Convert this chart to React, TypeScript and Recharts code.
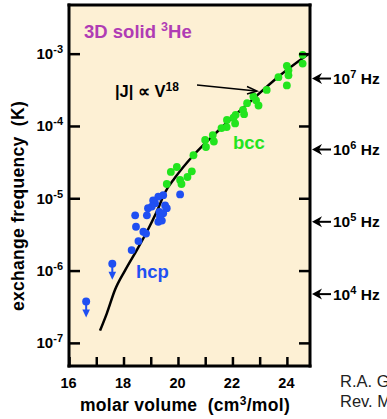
import { CartesianGrid, ComposedChart, Line, Scatter, XAxis, YAxis } from "recharts";

const FONT = '"Liberation Sans", Arial, Helvetica, sans-serif';
const BG = "#fdf0d4";
const GREEN = "#22e41e";
const BLUE = "#1f4ff2";
const PURPLE = "#b03cb4";

// molar volume (cm3/mol) vs exchange frequency |J| (K)
const hcpPoints = [
  { v: 20.06, j: 1.15e-5 },
  { v: 19.44, j: 1.12e-5 },
  { v: 19.26, j: 1.07e-5 },
  { v: 19.14, j: 8.7e-6 },
  { v: 19.07, j: 9.5e-6 },
  { v: 19.02, j: 7.8e-6 },
  { v: 19.51, j: 8.1e-6 },
  { v: 19.57, j: 7.4e-6 },
  { v: 19.3, j: 6.6e-6 },
  { v: 19.44, j: 6.3e-6 },
  { v: 19.32, j: 5.6e-6 },
  { v: 19.39, j: 5.0e-6 },
  { v: 19.26, j: 4.8e-6 },
  { v: 18.88, j: 7.4e-6 },
  { v: 18.41, j: 5.9e-6 },
  { v: 18.84, j: 5.9e-6 },
  { v: 18.44, j: 4.1e-6 },
  { v: 18.71, j: 3.5e-6 },
  { v: 18.81, j: 3.3e-6 },
  { v: 18.53, j: 2.6e-6 },
  { v: 18.28, j: 1.95e-6 },
];

const hcpUpperLimits = [
  { v: 17.57, j: 1.26e-6 },
  { v: 16.61, j: 3.8e-7 },
];

const bccPoints = [
  { v: 24.56, j: 9.8e-4 },
  { v: 24.56, j: 7.4e-4 },
  { v: 23.98, j: 6.9e-4 },
  { v: 24.04, j: 6.0e-4 },
  { v: 24.04, j: 5.1e-4 },
  { v: 23.67, j: 4.8e-4 },
  { v: 23.98, j: 3.7e-4 },
  { v: 23.24, j: 3.2e-4 },
  { v: 22.75, j: 2.6e-4 },
  { v: 22.85, j: 2.3e-4 },
  { v: 22.94, j: 1.95e-4 },
  { v: 22.52, j: 2.1e-4 },
  { v: 22.37, j: 1.7e-4 },
  { v: 22.41, j: 1.48e-4 },
  { v: 22.1, j: 1.45e-4 },
  { v: 22.02, j: 1.32e-4 },
  { v: 21.78, j: 1.23e-4 },
  { v: 22.08, j: 1.1e-4 },
  { v: 21.77, j: 9.8e-5 },
  { v: 21.58, j: 9.5e-5 },
  { v: 21.26, j: 7.6e-5 },
  { v: 21.3, j: 6.2e-5 },
  { v: 20.98, j: 6.5e-5 },
  { v: 21.01, j: 5.2e-5 },
  { v: 20.55, j: 4.0e-5 },
  { v: 19.94, j: 2.75e-5 },
  { v: 19.72, j: 2.35e-5 },
  { v: 20.49, j: 2.4e-5 },
  { v: 20.33, j: 2.0e-5 },
  { v: 20.06, j: 1.82e-5 },
  { v: 20.11, j: 1.6e-5 },
  { v: 19.57, j: 1.6e-5 },
];

const fitCurve = [
  { v: 17.12, j: 1.5e-7 },
  { v: 17.37, j: 2.6e-7 },
  { v: 17.67, j: 5.5e-7 },
  { v: 18.04, j: 1.02e-6 },
  { v: 18.47, j: 1.95e-6 },
  { v: 18.84, j: 3.5e-6 },
  { v: 19.2, j: 6.6e-6 },
  { v: 19.51, j: 1.23e-5 },
  { v: 19.87, j: 1.95e-5 },
  { v: 20.55, j: 4.0e-5 },
  { v: 21.5, j: 9.0e-5 },
  { v: 22.63, j: 2.2e-4 },
  { v: 23.7, j: 5.0e-4 },
  { v: 24.76, j: 1.0e-3 },
];

const decadeTicks = [1e-7, 1e-6, 1e-5, 1e-4, 1e-3];
const volumeTicks = [16, 17, 18, 19, 20, 21, 22, 23, 24];
const hzMarks = [
  { j: 4.6e-4, exp: 7 },
  { j: 4.8e-5, exp: 6 },
  { j: 4.8e-6, exp: 5 },
  { j: 4.8e-7, exp: 4 },
];

const isDecade = (val: number) => decadeTicks.some((d) => Math.abs(val / d - 1) < 1e-6);

const LeftTick = (props: any) => {
  const { x, y, payload } = props;
  const exp = Math.round(Math.log10(payload.value));
  return (
    <g>
      <line x1={x} y1={y} x2={x + 11} y2={y} stroke="#000" strokeWidth={2.5} />
      <text x={x - 6} y={y + 5} textAnchor="end" fontFamily={FONT} fontWeight="bold" fontSize={15} fill="#000">
        <tspan>10</tspan>
        <tspan dy={-6} fontSize={11}>{exp}</tspan>
      </text>
    </g>
  );
};

const RightTick = (props: any) => {
  const { x, y, payload } = props;
  if (isDecade(payload.value)) {
    return <line x1={x - 11} y1={y} x2={x} y2={y} stroke="#000" strokeWidth={2.5} />;
  }
  const mark = hzMarks.find((m) => Math.abs(payload.value / m.j - 1) < 1e-6);
  return (
    <g>
      <polygon
        points={`${x + 2},${y} ${x + 12},${y - 5.5} ${x + 9},${y} ${x + 12},${y + 5.5}`}
        fill="#000"
      />
      <line x1={x + 8} y1={y} x2={x + 21} y2={y} stroke="#000" strokeWidth={2} />
      <text x={x + 23} y={y + 5.5} fontFamily={FONT} fontWeight="bold" fontSize={15.5} fill="#000">
        <tspan>10</tspan>
        <tspan dy={-6} fontSize={11}>{mark ? mark.exp : ""}</tspan>
        <tspan dy={6}> Hz</tspan>
      </text>
    </g>
  );
};

const BottomTick = (props: any) => {
  const { x, y, payload } = props;
  return (
    <g>
      <line x1={x} y1={y} x2={x} y2={y - 9} stroke="#000" strokeWidth={2.5} />
      {payload.value % 2 === 0 && (
        <text x={x - 1} y={y + 22} textAnchor="middle" fontFamily={FONT} fontWeight="bold" fontSize={14.5} fill="#000">
          {payload.value}
        </text>
      )}
    </g>
  );
};

const TopTick = (props: any) => {
  const { x, y } = props;
  return <line x1={x} y1={y} x2={x} y2={y + 9} stroke="#000" strokeWidth={2.5} />;
};

const Dot = (color: string) => (props: any) => <circle cx={props.cx} cy={props.cy} r={3.9} fill={color} />;

const UpperLimit = (props: any) => {
  const { cx, cy } = props;
  return (
    <g fill={BLUE} stroke="none">
      <circle cx={cx} cy={cy} r={4} />
      <rect x={cx - 1} y={cy + 3} width={2} height={8} />
      <polygon points={`${cx - 3.8},${cy + 8} ${cx + 3.8},${cy + 8} ${cx},${cy + 16}`} />
    </g>
  );
};

const frame = { stroke: "#000", strokeWidth: 3, strokeLinecap: "square" as const };

export default function App() {
  return (
    <div style={{ position: "absolute", left: 0, top: 0, width: 387, height: 419, overflow: "hidden", background: "#fff" }}>
      <ComposedChart width={387} height={419} margin={{ top: 0, right: 0, bottom: 0, left: 0 }}>
        <CartesianGrid fill={BG} horizontal={false} vertical={false} />
        <XAxis
          dataKey="v"
          type="number"
          domain={[15.98, 24.83]}
          allowDataOverflow
          ticks={volumeTicks}
          interval={0}
          height={53}
          tickSize={0}
          tickMargin={0}
          tickLine={false}
          axisLine={frame}
          tick={<BottomTick />}
        />
        <XAxis
          xAxisId="top"
          orientation="top"
          type="number"
          domain={[15.98, 24.83]}
          allowDataOverflow
          ticks={volumeTicks.slice(1)}
          interval={0}
          height={5}
          tickSize={0}
          tickMargin={0}
          tickLine={false}
          axisLine={frame}
          tick={<TopTick />}
        />
        <YAxis
          dataKey="j"
          type="number"
          scale="log"
          domain={[Math.pow(10, -7.313), Math.pow(10, -2.32)]}
          allowDataOverflow
          ticks={decadeTicks}
          interval={0}
          width={69}
          tickSize={0}
          tickMargin={0}
          tickLine={false}
          axisLine={frame}
          tick={<LeftTick />}
        />
        <YAxis
          yAxisId="right"
          orientation="right"
          type="number"
          scale="log"
          domain={[Math.pow(10, -7.313), Math.pow(10, -2.32)]}
          allowDataOverflow
          ticks={[...decadeTicks, ...hzMarks.map((m) => m.j)]}
          interval={0}
          width={77}
          tickSize={0}
          tickMargin={0}
          tickLine={false}
          axisLine={frame}
          tick={<RightTick />}
        />
        <Line
          data={fitCurve}
          dataKey="j"
          type="monotone"
          stroke="#000"
          strokeWidth={2.5}
          dot={false}
          isAnimationActive={false}
        />
        <Scatter data={hcpPoints} dataKey="j" shape={Dot(BLUE)} isAnimationActive={false} />
        <Scatter data={hcpUpperLimits} dataKey="j" shape={<UpperLimit />} isAnimationActive={false} />
        <Scatter data={bccPoints} dataKey="j" shape={Dot(GREEN)} isAnimationActive={false} />
      </ComposedChart>
      <svg
        width={387}
        height={419}
        style={{ position: "absolute", left: 0, top: 0, pointerEvents: "none" }}
        fontFamily={FONT}
      >
        <text x={84} y={37.5} fontSize={18.5} fontWeight="bold" fill={PURPLE}>
          <tspan>3D solid </tspan>
          <tspan dy={-6.5} fontSize={12.5}>3</tspan>
          <tspan dy={6.5}>He</tspan>
        </text>
        <text x={115} y={97} fontSize={16.5} fontWeight="bold" fill="#000">
          <tspan>|J| ∝ V</tspan>
          <tspan dy={-6.5} fontSize={12}>18</tspan>
        </text>
        <line x1={197} y1={85} x2={256} y2={91} stroke="#000" strokeWidth={1.5} />
        <polyline points="247,86.5 257,91 247,94" fill="none" stroke="#000" strokeWidth={1.5} />
        <text x={233} y={149} fontSize={18.5} fontWeight="bold" fill={GREEN}>bcc</text>
        <text x={136} y={278} fontSize={18.5} fontWeight="bold" fill={BLUE}>hcp</text>
        <text
          transform="translate(24,206) rotate(-90)"
          textAnchor="middle"
          fontSize={17.5}
          letterSpacing={0.3}
          fontWeight="bold"
          fill="#000"
        >
          exchange frequency {"\u00a0"}(K)
        </text>
        <text x={185} y={411} textAnchor="middle" fontSize={17.5} letterSpacing={0.3} fontWeight="bold" fill="#000">
          <tspan>molar volume {"\u00a0"}(cm</tspan>
          <tspan dy={-6.5} fontSize={12}>3</tspan>
          <tspan dy={6.5}>/mol)</tspan>
        </text>
        <text x={340} y={387} fontSize={16.5} fill="#222">R.A. Guyer et al.</text>
        <text x={340} y={407} fontSize={16.5} fill="#222">Rev. Mod. Phys.</text>
      </svg>
    </div>
  );
}
